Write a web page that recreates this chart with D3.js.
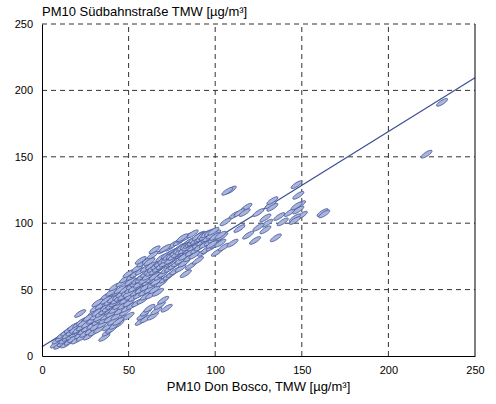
<!DOCTYPE html>
<html lang="de">
<head>
<meta charset="UTF-8">
<title>PM10 Scatter</title>
<script src="https://cdn.jsdelivr.net/npm/d3@7"></script>
<style>
  body { margin: 0; background: #fff; }
  svg text { font-family: "Liberation Sans", Arial, sans-serif; fill: #000; }
</style>
</head>
<body>
<div id="chart"></div>
<script>
// Don Bosco (x) vs Südbahnstraße (y) daily means
const donBosco = [
  8, 9, 10, 11, 12, 12, 13, 14, 14, 15, 16, 16, 17, 18, 18, 19, 20, 20, 21, 22, 22, 23, 23, 24, 25, 25, 26, 26, 27, 27, 28, 28, 29, 30, 30, 30,
  31, 31, 32, 32, 33, 33, 34, 34, 35, 35, 35, 36, 36, 37, 37, 38, 38, 38, 39, 39, 40, 40, 40, 41, 41, 42, 42, 42, 43, 43, 44, 44, 45, 45, 45, 46, 46, 46, 47, 47, 48, 48, 48, 49, 49, 50, 50, 50, 50, 51, 51, 52, 52, 52,
  36, 38, 40, 42, 44, 57, 58, 60, 60, 62, 64, 66, 68, 70, 72, 22, 32, 37,
  53, 53, 54, 54, 55, 55, 55, 56, 56, 57, 57, 58, 58, 58, 59, 59, 60, 60, 60, 61, 61, 62, 62, 63, 63, 63, 64, 64, 65, 65, 66, 66, 67, 67, 68, 68, 69, 69, 70, 70, 70, 71, 71, 72, 72, 73, 73, 74, 74, 75, 75, 75,
  76, 76, 77, 77, 78, 78, 79, 79, 80, 80, 80, 81, 81, 82, 82, 83, 83, 84, 84, 85, 85, 86, 86, 87, 87, 88, 88, 89, 90, 90, 90, 91, 92, 92, 93, 94, 95, 95, 96, 97, 98, 98, 99, 100, 100, 101, 102, 103, 104, 105,
  65, 71, 81, 91, 89, 97, 57, 62,
  15, 17, 19, 21, 23, 24, 26, 27, 29, 31, 32, 33, 34, 36, 37, 38, 39, 40, 41, 42, 43, 44, 45, 46, 47, 48, 49, 50, 51, 52, 53, 54, 55, 56, 57, 58, 59, 60, 61, 62,
  63, 64, 65, 66, 67, 68, 69, 70, 71, 72, 73, 74, 75, 76, 77, 78, 79, 80, 81, 82, 83, 84, 85, 86, 87, 88, 89, 90, 91, 92, 93, 94, 95, 96, 97, 98, 99, 100,
  109, 111, 118, 125, 129, 132, 139, 143, 147, 148, 149, 150, 162, 119, 123, 129, 135, 106, 103, 114, 110, 98,
  147, 148, 146, 146, 163, 107, 114, 117, 133, 133, 130, 137, 125,
  222, 231
];
const suedbahn = [
  9, 12, 8, 14, 10, 16, 12, 9, 18, 14, 11, 20, 15, 13, 22, 17, 12, 19, 24, 16, 21, 14, 26, 19, 23, 17, 28, 21, 15, 25, 30, 19, 23, 27, 33, 18,
  22, 36, 26, 30, 20, 34, 38, 28, 24, 32, 42, 27, 36, 30, 45, 22, 34, 40, 28, 37, 32, 44, 48, 26, 39, 35, 42, 52, 30, 46, 38, 24, 41, 50, 34, 44, 28, 55, 38, 48, 42, 33, 58, 46, 36, 40, 52, 30, 62, 45, 56, 38, 49, 60,
  14, 18, 20, 23, 26, 26, 30, 33, 28, 36, 30, 34, 38, 42, 36, 32, 40, 42,
  44, 55, 48, 62, 40, 52, 66, 46, 58, 50, 64, 42, 55, 70, 48, 60, 52, 45, 66, 56, 72, 50, 62, 46, 58, 68, 54, 76, 60, 50, 64, 56, 70, 48, 60, 66, 74, 55, 62, 68, 80, 58, 72, 65, 76, 60, 70, 82, 66, 72, 62, 78,
  68, 84, 74, 64, 80, 70, 76, 86, 66, 72, 82, 78, 88, 70, 75, 84, 62, 80, 90, 74, 86, 78, 68, 82, 92, 76, 86, 80, 84, 88, 72, 82, 86, 90, 78, 84, 88, 80, 92, 86, 82, 90, 88, 84, 92, 78, 88, 85, 90, 82,
  80, 81, 89, 91, 86, 91, 72, 71,
  16, 18, 20, 20, 22, 25, 24, 29, 27, 30, 33, 29, 32, 34, 37, 36, 41, 38, 43, 40, 42, 45, 44, 47, 45, 50, 48, 47, 50, 53, 51, 55, 57, 54, 58, 60, 57, 62, 60, 64,
  63, 66, 64, 68, 66, 70, 68, 72, 70, 73, 75, 72, 76, 75, 78, 77, 80, 79, 82, 80, 83, 82, 84, 85, 86, 88, 87, 90, 88, 89, 91, 90, 92, 89, 93, 91, 94, 90,
  125, 106, 112, 108, 104, 114, 101, 108, 129, 121, 114, 106, 108, 91, 87, 95, 89, 101, 91, 96, 85, 84,
  113, 110, 104, 102, 107, 124, 108, 108, 117, 112, 100, 105, 97,
  152, 191
];
const xTicks = [0, 50, 100, 150, 200, 250];
const yTicks = [0, 50, 100, 150, 200, 250];
// regression line end points (intercept and value at 250)
const fitX = [0, 250];
const fitY = [7, 209.5];

const points = donBosco.map((d, i) => ({ x: d, y: suedbahn[i] }));

const w = 496, h = 404;
const margin = { top: 24, right: 21, bottom: 48, left: 42 };

const svg = d3.select('#chart')
  .append('svg')
  .attr('width', w)
  .attr('height', h);

const x = d3.scaleLinear().domain([0, 250]).range([margin.left, w - margin.right]);
const y = d3.scaleLinear().domain([0, 250]).range([h - margin.bottom, margin.top]);

// dashed grid
svg.append('g')
  .selectAll('line')
  .data(xTicks.slice(1, -1))
  .enter()
  .append('line')
  .attr('x1', d => x(d)).attr('x2', d => x(d))
  .attr('y1', y(0)).attr('y2', y(250))
  .attr('stroke', '#333')
  .attr('stroke-dasharray', '5,4');

svg.append('g')
  .selectAll('line')
  .data(yTicks.slice(1))
  .enter()
  .append('line')
  .attr('y1', d => y(d)).attr('y2', d => y(d))
  .attr('x1', x(0)).attr('x2', x(250))
  .attr('stroke', '#333')
  .attr('stroke-dasharray', '5,4');

// fit line (under the points)
svg.append('line')
  .attr('x1', x(fitX[0])).attr('y1', y(fitY[0]))
  .attr('x2', x(fitX[1])).attr('y2', y(fitY[1]))
  .attr('stroke', '#3f5193')
  .attr('stroke-width', 1.3);

// points as slanted pale markers
svg.append('g')
  .selectAll('ellipse')
  .data(points)
  .enter()
  .append('ellipse')
  .attr('transform', d => `translate(${x(d.x)},${y(d.y)}) rotate(-33)`)
  .attr('rx', 6.5)
  .attr('ry', 2)
  .attr('fill', '#a9b5da')
  .attr('stroke', '#4d5fa1')
  .attr('stroke-width', 0.8);

// axes
const xAxis = d3.axisBottom(x).tickValues(xTicks).tickSize(0).tickPadding(10);
const yAxis = d3.axisLeft(y).tickValues(yTicks).tickSize(0).tickPadding(9);

svg.append('g')
  .attr('transform', `translate(0,${y(0)})`)
  .call(xAxis)
  .call(g => g.select('.domain').attr('stroke', '#000'))
  .selectAll('text').style('font-size', '11px');

svg.append('g')
  .attr('transform', `translate(${x(0)},0)`)
  .call(yAxis)
  .call(g => g.select('.domain').attr('stroke', '#000'))
  .selectAll('text').style('font-size', '11px');

// right border solid
svg.append('line')
  .attr('x1', x(250)).attr('x2', x(250))
  .attr('y1', y(0)).attr('y2', y(250))
  .attr('stroke', '#000');

svg.append('text')
  .attr('x', margin.left)
  .attr('y', 16)
  .style('font-size', '13px')
  .text('PM10 Südbahnstraße TMW [µg/m³]');

svg.append('text')
  .attr('x', (x(0) + x(250)) / 2)
  .attr('y', 391)
  .attr('text-anchor', 'middle')
  .style('font-size', '13px')
  .text('PM10 Don Bosco, TMW [µg/m³]');
</script>
</body>
</html>
